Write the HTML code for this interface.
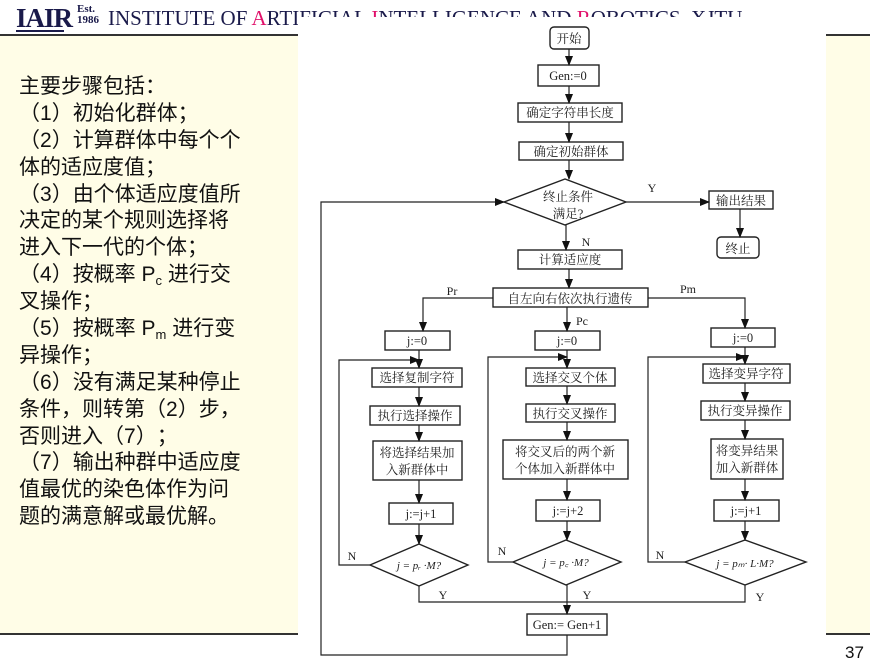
<!DOCTYPE html>
<html><head><meta charset="utf-8"><style>
body{margin:0;width:870px;height:669px;overflow:hidden;background:#fff;position:relative;font-family:"Liberation Sans","Noto Sans CJK SC",sans-serif}
.cream{position:absolute;background:#fffde7}
.txt{position:absolute;left:19px;top:74px;font-size:21px;color:#111;white-space:nowrap}
.txt div{height:26.9px;line-height:26.9px}
.txt sub{font-size:13px;line-height:0;vertical-align:-4px}
.o,.c{display:inline-block;width:21px;font-family:"Noto Sans CJK SC",sans-serif;line-height:20px}
.o{text-align:right}.c{text-align:left}
</style></head><body>
<div class="cream" style="left:0;top:36px;width:870px;height:597px"></div>
<div style="position:absolute;left:0;top:34px;width:870px;height:2px;background:#333"></div>
<div style="position:absolute;left:0;top:633px;width:870px;height:2px;background:#333"></div>
<div style="position:absolute;left:16px;top:3px;font-family:'Liberation Serif',serif;font-weight:bold;font-size:27px;letter-spacing:-1px;color:#1a1a4a">IAIR</div>
<div style="position:absolute;left:77px;top:4px;font-family:'Liberation Serif',serif;font-weight:bold;font-size:11px;line-height:11px;color:#1a1a4a">Est.<br>1986</div>
<div style="position:absolute;left:16px;top:30px;width:48px;height:2px;background:#1a1a4a"></div>
<div style="position:absolute;left:108px;top:6px;font-family:'Liberation Serif',serif;font-size:21px;color:#1a1a4a;white-space:nowrap">INSTITUTE OF <span style="color:#e0106a">A</span>RTIFICIAL <span style="color:#e0106a">I</span>NTELLIGENCE AND <span style="color:#e0106a">R</span>OBOTICS, XJTU</div>
<div class="txt">
<div>主要步骤包括：</div>
<div><span class="o">（</span>1<span class="c">）</span>初始化群体；</div>
<div><span class="o">（</span>2<span class="c">）</span>计算群体中每个个</div>
<div>体的适应度值；</div>
<div><span class="o">（</span>3<span class="c">）</span>由个体适应度值所</div>
<div>决定的某个规则选择将</div>
<div>进入下一代的个体；</div>
<div><span class="o">（</span>4<span class="c">）</span>按概率 P<sub>c</sub> 进行交</div>
<div>叉操作；</div>
<div><span class="o">（</span>5<span class="c">）</span>按概率 P<sub>m</sub> 进行变</div>
<div>异操作；</div>
<div><span class="o">（</span>6<span class="c">）</span>没有满足某种停止</div>
<div>条件，则转第<span class="o">（</span>2<span class="c">）</span>步，</div>
<div>否则进入<span class="o">（</span>7<span class="c">）</span>；</div>
<div><span class="o">（</span>7<span class="c">）</span>输出种群中适应度</div>
<div>值最优的染色体作为问</div>
<div>题的满意解或最优解。</div>
</div>
<div style="position:absolute;left:845px;top:643px;font-size:17px;color:#111">37</div>
<svg style="position:absolute;left:298px;top:17px" width="528" height="652" viewBox="298 17 528 652">
<defs><marker id="a" markerWidth="10" markerHeight="8" refX="9" refY="4" orient="auto" markerUnits="userSpaceOnUse"><path d="M0,0 L10,4 L0,8z" fill="#111"/></marker></defs>
<rect x="298" y="17" width="528" height="652" fill="#fff"/>
<g fill="none" stroke="#222" stroke-width="1.4">
<rect x="550" y="27" width="39" height="22" rx="4"/>
<rect x="538" y="65" width="61" height="21"/>
<rect x="518" y="103" width="104" height="19"/>
<rect x="519" y="142" width="104" height="18"/>
<path d="M504,202 L565,179 L626,202 L565,225z"/>
<rect x="709" y="191" width="64" height="18"/>
<rect x="717" y="237" width="42" height="21" rx="4"/>
<rect x="518" y="250" width="104" height="19"/>
<rect x="493" y="288" width="155" height="19"/>
<rect x="385" y="331" width="65" height="19"/>
<rect x="372" y="368" width="90" height="19"/>
<rect x="370" y="406" width="90" height="19"/>
<rect x="373" y="441" width="89" height="39"/>
<rect x="389" y="503" width="64" height="21"/>
<path d="M370,565 L419,544 L468,565 L419,586z"/>
<rect x="535" y="331" width="65" height="19"/>
<rect x="526" y="368" width="89" height="18"/>
<rect x="526" y="404" width="89" height="18"/>
<rect x="503" y="440" width="125" height="39"/>
<rect x="536" y="500" width="64" height="21"/>
<path d="M513,562 L566,540 L621,562 L566,585z"/>
<rect x="711" y="328" width="64" height="19"/>
<rect x="703" y="364" width="87" height="19"/>
<rect x="701" y="401" width="89" height="19"/>
<rect x="711" y="439" width="72" height="40"/>
<rect x="714" y="500" width="65" height="21"/>
<path d="M685,562 L745,540 L806,562 L745,585z"/>
<rect x="527" y="614" width="80" height="21"/>
</g>
<g fill="none" stroke="#222" stroke-width="1.2" marker-end="url(#a)">
<path d="M569,49 V65"/><path d="M569,86 V103"/><path d="M569,122 V142"/><path d="M569,160 V179"/>
<path d="M626,202 H709"/><path d="M740,209 V237"/>
<path d="M566,225 V250"/><path d="M569,269 V288"/>
<path d="M493,298 H423 V331"/><path d="M567,307 V331"/><path d="M648,298 H745 V328"/>
<path d="M419,350 V368"/><path d="M419,387 V406"/><path d="M419,425 V441"/><path d="M419,480 V503"/><path d="M419,524 V544"/>
<path d="M370,565 H339 V360 H419"/>
<path d="M567,350 V368"/><path d="M567,386 V404"/><path d="M567,422 V440"/><path d="M567,479 V500"/><path d="M567,521 V540"/>
<path d="M513,562 H488 V357 H567"/>
<path d="M745,347 V364"/><path d="M745,383 V401"/><path d="M745,420 V439"/><path d="M745,479 V500"/><path d="M745,521 V540"/>
<path d="M685,562 H648 V357 H745"/>
<path d="M567,585 V614"/>
<path d="M567,635 V655 H321 V202 H504"/>
</g>
<path d="M419,586 V602 H745 V585" fill="none" stroke="#222" stroke-width="1.2"/>
<g font-family="'Liberation Serif','Noto Serif CJK SC',serif" font-size="12.5" fill="#222" text-anchor="middle">
<text x="569" y="43">开始</text>
<text x="568" y="80">Gen:=0</text>
<text x="570" y="117">确定字符串长度</text>
<text x="571" y="156">确定初始群体</text>
<text x="568" y="201">终止条件</text>
<text x="568" y="218">满足?</text>
<text x="741" y="205">输出结果</text>
<text x="738" y="253">终止</text>
<text x="570" y="264">计算适应度</text>
<text x="570" y="303">自左向右依次执行遗传</text>
<text x="417" y="345">j:=0</text><text x="567" y="345">j:=0</text><text x="743" y="342">j:=0</text>
<text x="417" y="382">选择复制字符</text><text x="570" y="382">选择交叉个体</text><text x="746" y="378">选择变异字符</text>
<text x="415" y="420">执行选择操作</text><text x="570" y="418">执行交叉操作</text><text x="745" y="415">执行变异操作</text>
<text x="417" y="457">将选择结果加</text><text x="417" y="474">入新群体中</text>
<text x="565" y="456">将交叉后的两个新</text><text x="565" y="473">个体加入新群体中</text>
<text x="747" y="455">将变异结果</text><text x="747" y="472">加入新群体</text>
<text x="421" y="518">j:=j+1</text><text x="568" y="515">j:=j+2</text><text x="746" y="515">j:=j+1</text>
<text x="567" y="629">Gen:= Gen+1</text>
<g font-style="italic" font-size="11"><text x="419" y="569">j = pᵣ ·M?</text><text x="566" y="566">j = p꜀ ·M?</text><text x="745" y="567">j = pₘ· L·M?</text></g>
<g font-size="12"><text x="652" y="192">Y</text><text x="586" y="246">N</text><text x="452" y="295">Pr</text><text x="582" y="325">Pc</text><text x="688" y="293">Pm</text>
<text x="352" y="560">N</text><text x="502" y="555">N</text><text x="660" y="559">N</text>
<text x="443" y="599">Y</text><text x="587" y="599">Y</text><text x="760" y="601">Y</text></g>
</g>
</svg>
</body></html>
